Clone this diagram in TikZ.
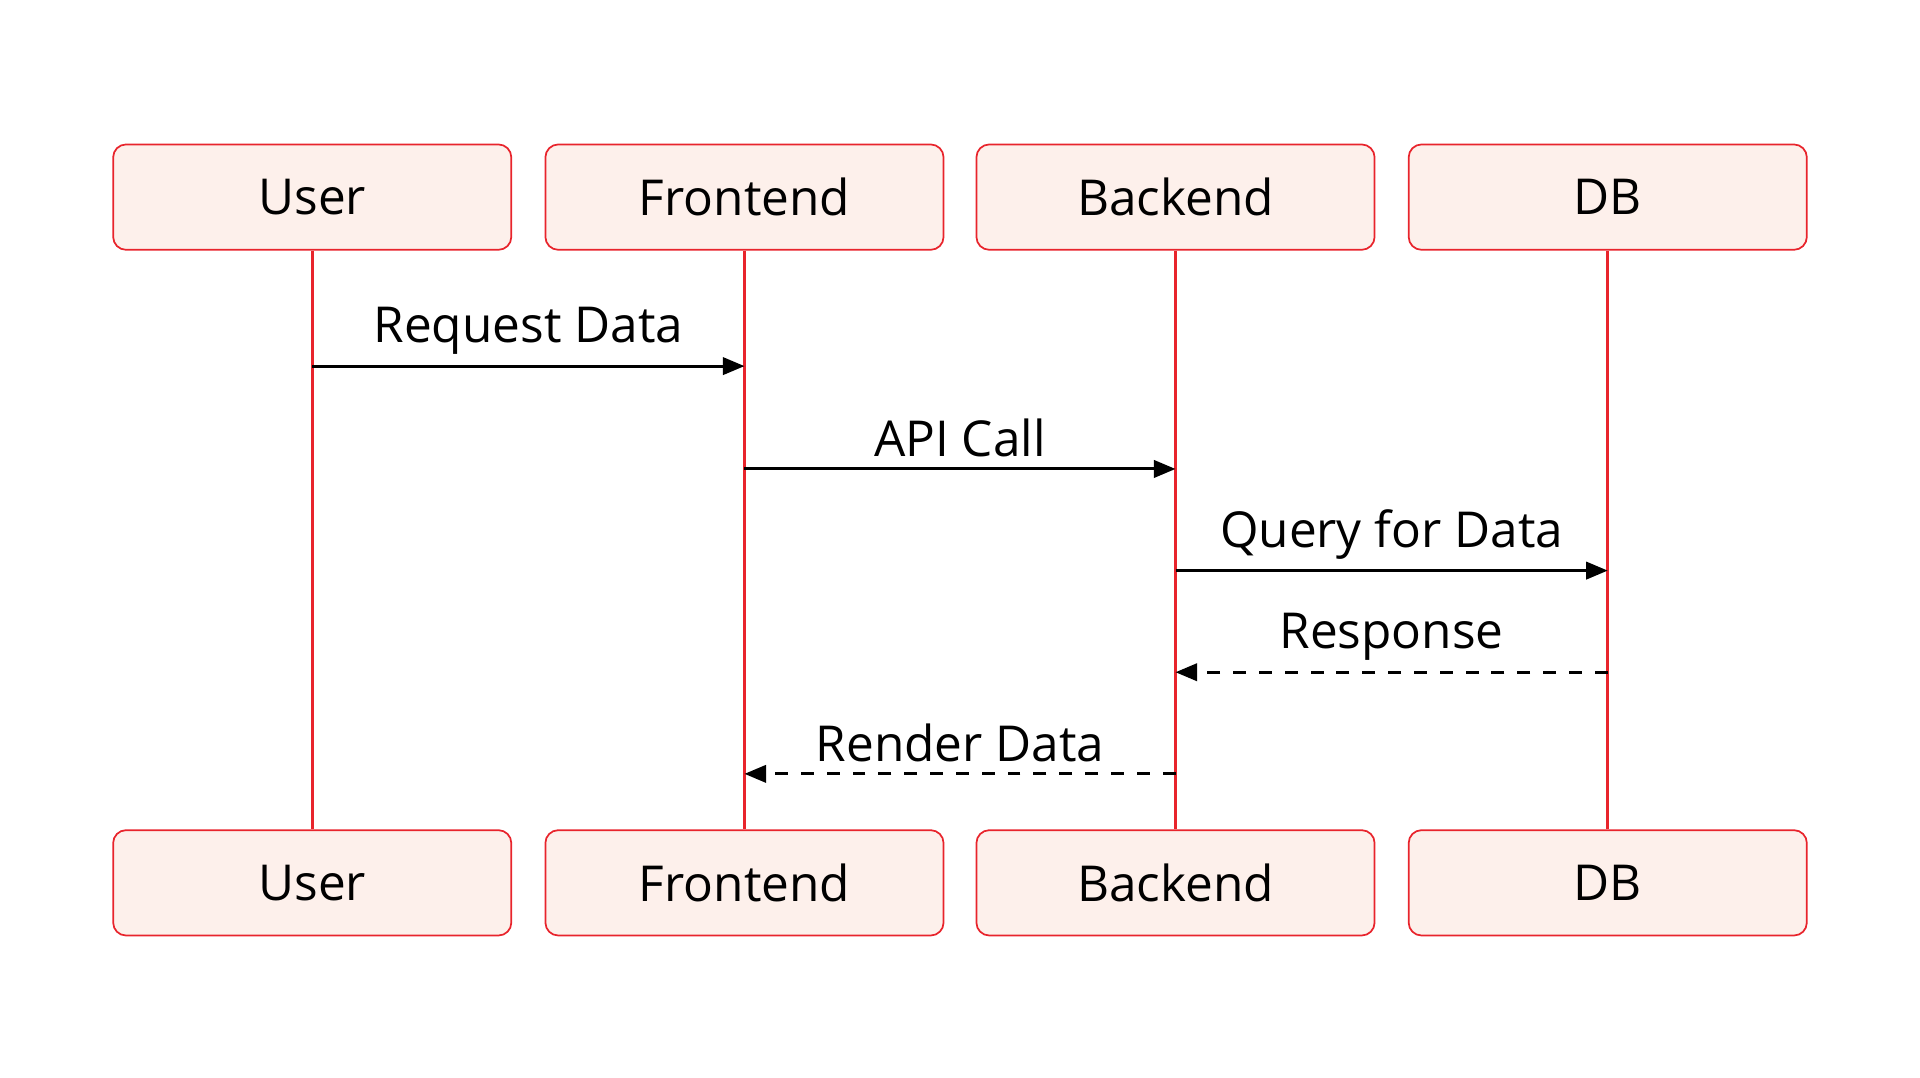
\documentclass[tikz,border=0pt]{standalone}
\usepackage{fontspec}
\setmainfont{Open Sans}
\usetikzlibrary{arrows.meta}
\definecolor{boxred}{HTML}{E8242C}
\definecolor{boxfill}{HTML}{FDF0EB}
\tikzset{
  actor/.style={draw=boxred, fill=boxfill, rounded corners=3pt, minimum width=3.25cm, minimum height=0.86cm, font=\fontsize{11.5}{14}\selectfont},
  life/.style={draw=boxred, line width=0.6pt},
  msg/.style={-{Triangle[length=5pt, width=4pt]}, line width=0.7pt},
  reply/.style={msg, dashed},
  lbl/.style={above=-1pt, font=\fontsize{11.5}{14}\selectfont}
}
\begin{document}
\begin{tikzpicture}[x=0.01cm, y=-0.01cm]
\useasboundingbox (0,0) rectangle (1568,880);

\node[actor] (user) at (255,161) {User};
\node[actor] (front) at (608,161) {Frontend};
\node[actor] (back) at (960,161) {Backend};
\node[actor] (db) at (1313,161) {DB};

\node[actor] (userB) at (255,721) {User};
\node[actor] (frontB) at (608,721) {Frontend};
\node[actor] (backB) at (960,721) {Backend};
\node[actor] (dbB) at (1313,721) {DB};

\draw[life] (user) -- (userB);
\draw[life] (front) -- (frontB);
\draw[life] (back) -- (backB);
\draw[life] (db) -- (dbB);

% messages
\coordinate (u1) at (255,299); \coordinate (f1) at (608,299);
\coordinate (f2) at (608,383); \coordinate (b2) at (960,383);
\coordinate (b3) at (960,466); \coordinate (d3) at (1313,466);
\coordinate (d4) at (1313,549); \coordinate (b4) at (960,549);
\coordinate (b5) at (960,632); \coordinate (f5) at (608,632);

\draw[msg] (u1) -- node[lbl] {Request Data} (f1);
\draw[msg] (f2) -- node[lbl] {API Call} (b2);
\draw[msg] (b3) -- node[lbl] {Query for Data} (d3);
\draw[reply] (d4) -- node[lbl] {Response} (b4);
\draw[reply] (b5) -- node[lbl] {Render Data} (f5);
\end{tikzpicture}
\end{document}
